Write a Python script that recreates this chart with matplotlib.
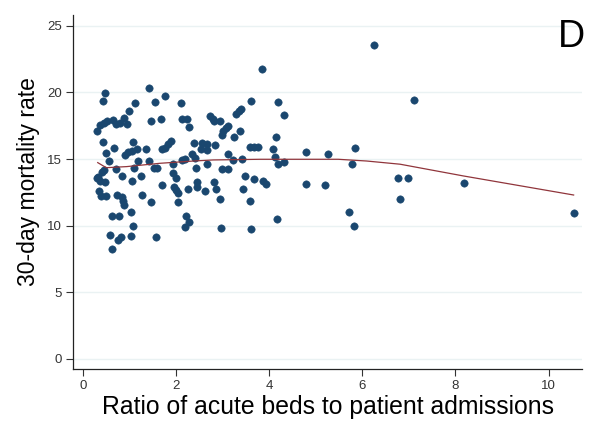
import numpy as np
import matplotlib
matplotlib.use("Agg")
import matplotlib.pyplot as plt

plt.rcParams["font.family"] = ["Liberation Sans", "DejaVu Sans"]

# hospitals: ratio of acute beds to admissions vs 30-day mortality
ratio = [
    1.42, 0.46, 0.42, 1.76, 1.11, 1.54, 2.09, 0.99, 0.30, 0.36,
    0.45, 0.52, 0.64, 0.70, 0.79, 0.87, 0.94, 1.46, 1.68, 2.13,
    2.23, 2.28, 0.42, 0.66, 0.48, 1.07, 1.16, 1.34, 0.90, 0.97,
    1.04, 1.69, 1.76, 1.83, 1.89, 0.56, 1.18, 1.42, 2.33, 2.39,
    2.12, 2.19, 1.93, 0.40, 0.45, 0.70, 1.09, 1.51, 1.58, 0.32,
    0.29, 0.36, 0.47, 0.84, 1.05, 1.25, 1.93, 1.99, 1.69, 1.96,
    1.99, 2.03, 2.24, 0.34, 0.38, 0.49, 0.73, 0.83, 0.86, 0.88,
    1.27, 1.46, 2.04, 1.03, 0.62, 0.77, 2.21, 2.27, 2.19, 1.07,
    0.57, 0.75, 0.81, 1.03, 1.56, 0.61, 2.41, 3.60, 4.19, 4.32,
    3.29, 3.35, 3.40, 2.72, 2.78, 2.81, 2.94, 3.12, 3.06, 3.00,
    2.98, 3.37, 3.24, 4.15, 2.56, 2.65, 2.52, 2.65, 2.83, 3.58,
    3.67, 3.76, 4.07, 3.10, 4.11, 3.21, 3.41, 4.19, 4.31, 2.65,
    2.42, 2.98, 3.12, 2.44, 2.44, 2.62, 2.80, 2.86, 2.93, 3.48,
    3.66, 3.44, 3.87, 3.92, 3.58, 4.17, 2.97, 3.60, 3.84, 4.79,
    5.25, 5.84, 5.78, 4.78, 5.20, 5.71, 5.82, 6.77, 6.97, 6.81,
    7.10, 8.18, 10.54, 6.24,
]
mortality = [
    20.31, 19.93, 19.38, 19.75, 19.20, 19.26, 19.20, 18.58, 17.10, 17.55,
    17.68, 17.88, 17.93, 17.61, 17.68, 18.06, 17.65, 17.83, 18.03, 17.98,
    18.00, 17.43, 16.28, 15.85, 15.45, 16.26, 15.75, 15.73, 15.30, 15.55,
    15.60, 15.75, 15.85, 16.11, 16.33, 14.85, 14.85, 14.85, 15.38, 16.19,
    14.93, 15.00, 14.59, 14.05, 14.18, 14.25, 14.33, 14.29, 14.29, 13.68,
    13.56, 13.35, 13.30, 13.73, 13.33, 13.71, 13.93, 13.60, 13.05, 12.93,
    12.68, 12.48, 12.73, 12.60, 12.23, 12.25, 12.28, 12.13, 11.85, 11.55,
    12.30, 11.76, 11.80, 11.05, 10.71, 10.71, 10.75, 10.30, 9.88, 9.95,
    9.28, 8.90, 9.15, 9.20, 9.15, 8.23, 15.08, 19.33, 19.26, 18.30,
    18.38, 18.57, 18.75, 18.25, 17.98, 17.88, 17.85, 17.48, 17.29, 17.07,
    16.82, 17.08, 16.68, 16.68, 16.23, 16.09, 15.73, 15.64, 16.05, 15.90,
    15.90, 15.90, 15.78, 15.38, 15.18, 14.91, 14.97, 14.61, 14.76, 14.61,
    14.29, 14.22, 14.22, 13.30, 12.88, 12.63, 13.26, 12.75, 12.00, 13.71,
    13.50, 12.75, 13.33, 13.09, 11.85, 10.48, 9.80, 9.73, 21.73, 15.51,
    15.36, 15.83, 14.65, 13.15, 13.03, 11.03, 9.95, 13.58, 13.58, 12.00,
    19.41, 13.23, 10.98, 23.52,
]

# lowess fit
fit_x = [0.31, 0.43, 0.50, 0.93, 1.65, 2.37, 2.79, 3.80, 5.48, 6.09, 6.81, 8.17, 10.54]
fit_y = [14.73, 14.48, 14.35, 14.43, 14.68, 14.85, 14.93, 14.98, 14.98, 14.85, 14.61, 13.73, 12.30]

x_ticks = [0, 2, 4, 6, 8, 10]
y_ticks = [0, 5, 10, 15, 20, 25]

NAVY = "#1a476f"
MAROON = "#90353b"
GRID = "#eaf2f3"

fig = plt.figure(figsize=(5.96, 4.23), dpi=100)
ax = fig.add_axes([0.123, 0.1284, 0.8535, 0.836])

for yv in y_ticks:
    ax.axhline(yv, color=GRID, lw=1.0, zorder=0)

ax.scatter(ratio, mortality, s=28, color=NAVY, edgecolors=NAVY, linewidths=0.4, zorder=3)
ax.plot(fit_x, fit_y, color=MAROON, lw=0.9, zorder=4)

ax.set_xlim(-0.215, 10.72)
ax.set_ylim(-0.73, 25.8)
ax.set_xticks(x_ticks)
ax.set_yticks(y_ticks)
ax.tick_params(axis="both", direction="out", length=5, width=0.8,
               labelsize=9.5, colors="#333333", pad=3)
for side in ("top", "right"):
    ax.spines[side].set_visible(False)
for side in ("left", "bottom"):
    ax.spines[side].set_color("#222222")
    ax.spines[side].set_linewidth(0.9)

ax.set_xlabel("Ratio of acute beds to patient admissions", fontsize=17.8)
ax.xaxis.set_label_coords(0.5, -0.075, transform=ax.transAxes)
ax.xaxis.label.set_va("top")
ax.set_ylabel("30-day mortality rate", fontsize=16.5)
ax.yaxis.set_label_coords(-0.066, 0.53, transform=ax.transAxes)

fig.text(0.982, 0.955, "D", fontsize=27, ha="right", va="top")

fig.savefig("out.png", dpi=100, facecolor="white")
